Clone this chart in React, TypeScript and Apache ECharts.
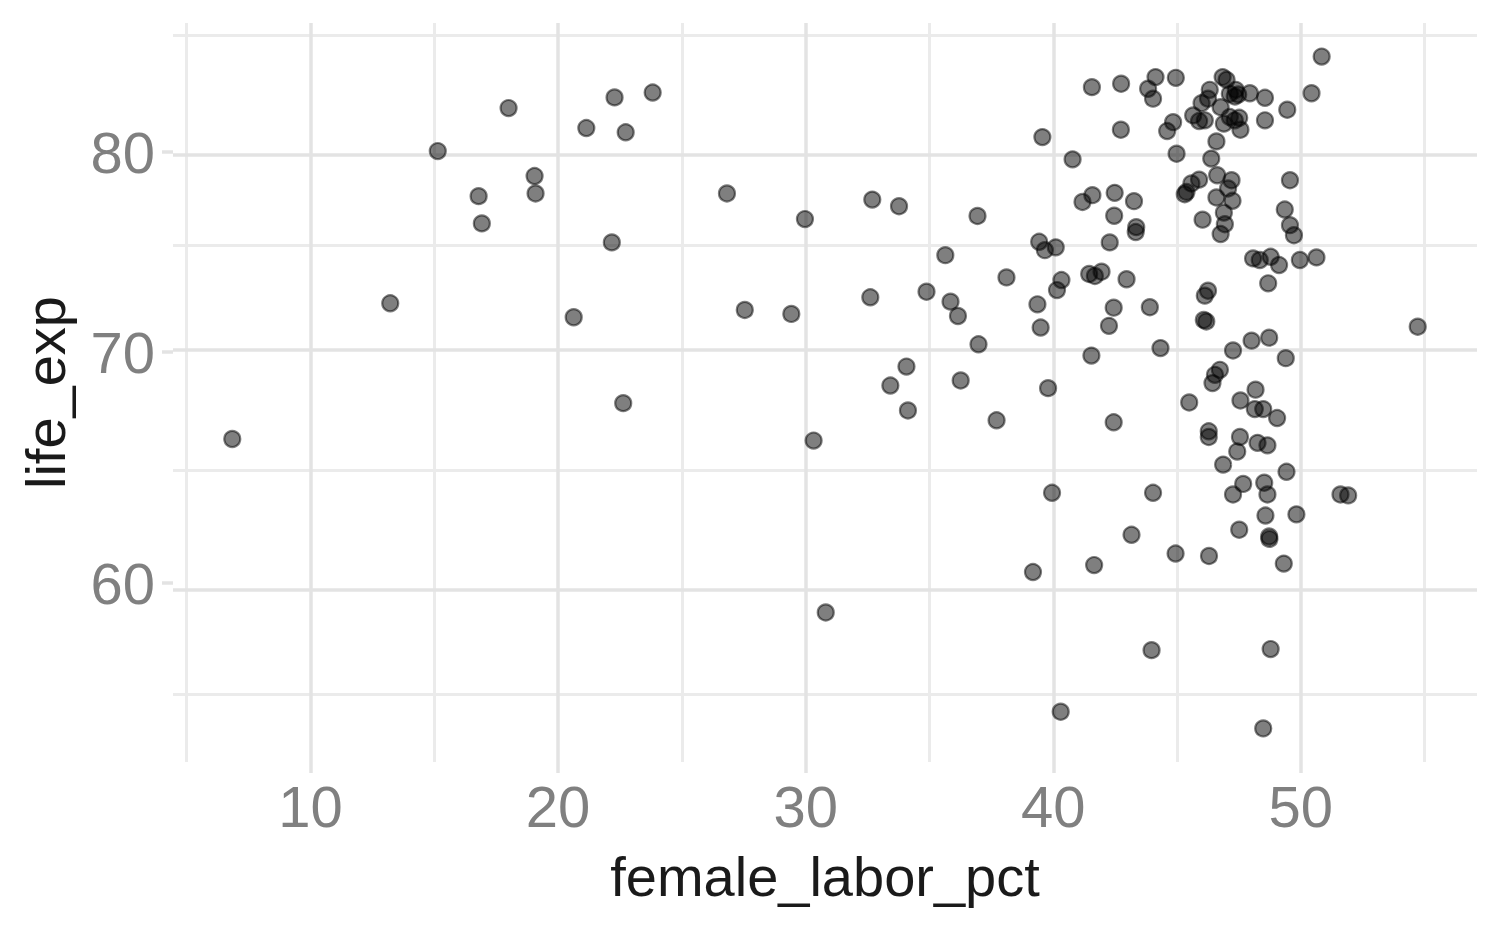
import React, { useEffect, useRef } from "react";
import * as echarts from "echarts";

// female_labor_pct (x) and life_exp (y), one entry per country
const femaleLaborPct = [
  50.84, 50.43, 49.45, 48.55, 48.55, 39.56, 41.56, 42.74, 44.13, 44.95,
  43.83, 44.03, 42.73, 44.84, 44.6, 40.78, 44.98, 46.59, 46.38, 46.84,
  47.0, 46.32, 47.37, 47.47, 47.33, 47.94, 47.13, 46.25, 45.99, 46.76,
  45.65, 45.89, 46.12, 46.89, 47.13, 47.51, 47.33, 47.56, 49.56, 49.35,
  49.56, 41.18, 41.58, 42.48, 43.26, 42.46, 45.38, 45.58, 45.89, 45.31,
  46.62, 47.2, 47.06, 46.59, 47.24, 46.89, 46.03, 46.93, 46.76, 43.35,
  43.33, 42.28, 49.72, 39.43, 39.66, 40.1, 38.11, 40.33, 40.15, 41.45,
  41.68, 41.95, 42.96, 39.36, 39.49, 42.44, 42.25, 43.9, 44.33, 41.54,
  46.25, 46.12, 46.08, 46.18, 48.07, 48.34, 48.78, 49.12, 49.96, 50.63,
  48.68, 47.26, 48.01, 48.72, 49.39, 46.73, 46.53, 46.43, 39.79, 42.44,
  37.71, 45.49, 47.56, 48.17, 48.14, 48.48, 49.04, 46.28, 46.28, 47.54,
  48.25, 48.65, 47.43, 46.86, 49.42, 39.95, 44.03, 47.67, 47.26, 48.52,
  48.65, 48.57, 49.82, 47.51, 48.72, 48.73, 43.16, 51.6, 51.91, 54.72,
  39.18, 41.65, 44.94, 46.29, 49.31, 43.97, 48.78, 40.3, 48.48, 18.0,
  21.14, 15.14, 19.05, 19.09, 16.79, 16.92, 13.22, 20.63, 6.84, 22.28,
  23.82, 22.73, 22.17, 26.82, 29.97, 32.69, 33.77, 36.94, 35.64, 27.54,
  29.42, 32.61, 34.88, 35.85, 36.15, 36.98, 34.07, 33.42, 34.13, 36.26,
  22.63, 30.32, 30.81,
];

const lifeExp = [
  85.26, 83.2, 82.29, 82.95, 81.71, 80.8, 83.54, 83.73, 84.1, 84.06,
  83.45, 82.9, 81.2, 81.61, 81.13, 79.61, 79.91, 80.57, 79.65, 84.1,
  83.95, 83.39, 83.39, 83.13, 83.02, 83.2, 83.17, 82.9, 82.65, 82.43,
  81.98, 81.67, 81.71, 81.53, 81.89, 81.85, 81.71, 81.2, 78.51, 76.99,
  76.19, 77.38, 77.73, 77.85, 77.42, 76.67, 77.9, 78.34, 78.54, 77.78,
  78.77, 78.51, 78.08, 77.61, 77.44, 76.83, 76.47, 76.24, 75.74, 76.09,
  75.84, 75.32, 75.68, 75.35, 74.93, 75.07, 73.58, 73.45, 72.96, 73.75,
  73.65, 73.86, 73.49, 72.27, 71.16, 72.11, 71.24, 72.13, 70.19, 69.84,
  72.93, 72.69, 71.52, 71.45, 74.52, 74.44, 74.6, 74.19, 74.44, 74.57,
  73.29, 70.08, 70.54, 70.68, 69.72, 69.18, 68.95, 68.57, 68.34, 66.8,
  66.89, 67.69, 67.78, 68.27, 67.39, 67.39, 66.99, 66.4, 66.15, 66.15,
  65.89, 65.78, 65.51, 64.94, 64.63, 63.73, 63.73, 64.11, 63.66, 64.16,
  63.66, 62.77, 62.82, 62.18, 61.9, 61.8, 61.97, 63.66, 63.62, 71.2,
  60.45, 60.73, 61.2, 61.1, 60.79, 57.38, 57.42, 55.07, 54.46, 82.38,
  81.29, 80.05, 78.73, 77.82, 77.68, 76.28, 72.32, 71.65, 66.06, 82.97,
  83.24, 81.06, 75.32, 77.82, 76.5, 77.5, 77.16, 76.66, 74.68, 72.0,
  71.81, 72.61, 72.88, 72.4, 71.71, 70.37, 69.33, 68.46, 67.33, 68.69,
  67.66, 65.99, 58.84,
];

const xMajorTicks = [10, 20, 30, 40, 50];
const xMinorTicks = [5, 15, 25, 35, 45, 55];
const yMajorTicks = [60, 70, 80]; // life_exp on a log10 scale

const FONT = '"Liberation Sans", Arial, Helvetica, sans-serif';
const GRID_MAJOR = "#E3E3E3";
const GRID_MINOR = "#EBEBEB";

export default function App() {
  const ref = useRef<HTMLDivElement>(null);

  useEffect(() => {
    document.body.style.margin = "0";
    const chart = echarts.init(ref.current!, null, { renderer: "svg" });

    // log-transformed y positions (ggplot scale_y_log10 equivalent)
    const lnMajor = yMajorTicks.map((v) => Math.log(v));
    const step = lnMajor[1] - lnMajor[0];
    const lnMinor = [
      lnMajor[0] - step / 2,
      ...lnMajor.slice(1).map((v, i) => (v + lnMajor[i]) / 2),
      lnMajor[lnMajor.length - 1] + step / 2,
    ];

    const points = femaleLaborPct.map((x, i) => [x, Math.log(lifeExp[i])]);

    const expandMin = (v: { min: number; max: number }) => v.min - 0.05 * (v.max - v.min);
    const expandMax = (v: { min: number; max: number }) => v.max + 0.05 * (v.max - v.min);

    const gridLines = [
      ...xMinorTicks.map((v) => ({ xAxis: v, lineStyle: { color: GRID_MINOR, width: 3, type: "solid" } })),
      ...lnMinor.map((v) => ({ yAxis: v, lineStyle: { color: GRID_MINOR, width: 3, type: "solid" } })),
      ...xMajorTicks.map((v) => ({ xAxis: v, lineStyle: { color: GRID_MAJOR, width: 3.5, type: "solid" } })),
      ...lnMajor.map((v) => ({ yAxis: v, lineStyle: { color: GRID_MAJOR, width: 3.5, type: "solid" } })),
    ];

    chart.setOption({
      animation: false,
      backgroundColor: "#ffffff",
      grid: { left: 173, right: 23, top: 23, bottom: 165, containLabel: false },
      xAxis: {
        type: "value",
        min: expandMin,
        max: expandMax,
        name: "female_labor_pct",
        nameLocation: "middle",
        nameGap: 86,
        nameTextStyle: { fontFamily: FONT, fontSize: 56, color: "#1a1a1a" },
        axisLine: { show: false },
        axisTick: {
          show: true,
          length: 11,
          customValues: xMajorTicks,
          lineStyle: { color: GRID_MAJOR, width: 3.5 },
        },
        axisLabel: {
          customValues: xMajorTicks,
          margin: 15,
          fontFamily: FONT,
          fontSize: 58,
          color: "#808080",
        },
        splitLine: { show: false },
      },
      yAxis: {
        type: "value",
        min: expandMin,
        max: expandMax,
        name: "life_exp",
        nameLocation: "middle",
        nameGap: 100,
        nameRotate: 90,
        nameTextStyle: { fontFamily: FONT, fontSize: 56, color: "#1a1a1a" },
        axisLine: { show: false },
        axisTick: {
          show: true,
          length: 11,
          customValues: lnMajor,
          lineStyle: { color: GRID_MAJOR, width: 3.5 },
        },
        axisLabel: {
          customValues: lnMajor,
          margin: 18,
          fontFamily: FONT,
          fontSize: 58,
          color: "#808080",
          formatter: (v: number) => String(Math.round(Math.exp(v))),
        },
        splitLine: { show: false },
      },
      series: [
        {
          type: "scatter",
          z: 3,
          data: points,
          symbol: "circle",
          symbolSize: 16,
          itemStyle: {
            color: "rgba(0,0,0,0.5)",
            borderColor: "rgba(0,0,0,0.5)",
            borderWidth: 2.2,
            opacity: 1,
          },
          emphasis: { disabled: true },
          markLine: {
            silent: true,
            z: 1,
            symbol: ["none", "none"],
            label: { show: false },
            emphasis: { disabled: true },
            animation: false,
            data: gridLines,
          },
        },
      ],
    });

    return () => chart.dispose();
  }, []);

  return (
    <div
      ref={ref}
      style={{ position: "absolute", left: 0, top: 0, width: 1500, height: 927 }}
    />
  );
}
